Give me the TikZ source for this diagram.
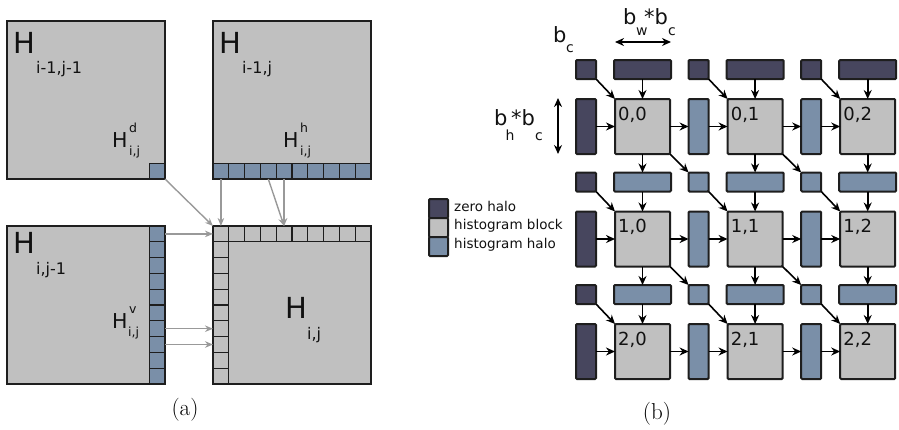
\documentclass[tikz,border=0pt]{standalone}
\usepackage{fontspec}
\newfontfamily\dv{DejaVu Sans}
\usetikzlibrary{arrows.meta}
\definecolor{blockgray}{HTML}{C0C0C0}
\definecolor{halob}{HTML}{7A8FA8}
\definecolor{zerod}{HTML}{47465E}
\definecolor{edgec}{HTML}{1E1E1E}
\definecolor{arrowgray}{HTML}{999999}
\definecolor{txtc}{HTML}{111111}
\begin{document}
\begin{tikzpicture}[x=1pt,y=-1pt,
  bigbox/.style={draw=edgec, line width=1.5pt, fill=blockgray, minimum size=158pt, inner sep=0pt, outer sep=0pt},
  hcell/.style={draw=edgec, line width=1.2pt, fill=halob, minimum size=15.8pt, inner sep=0pt, outer sep=0pt},
  gcell/.style={draw=edgec, line width=1.2pt, fill=blockgray, minimum size=15.8pt, inner sep=0pt, outer sep=0pt},
  garrow/.style={draw=arrowgray, line width=1.4pt, -{Stealth[length=8pt,width=6.5pt]}},
  rbox/.style={draw=edgec, line width=2pt, rounded corners=1pt, inner sep=0pt, outer sep=0pt},
  sqbox/.style={rbox, minimum width=20pt, minimum height=19pt},
  hbarbox/.style={rbox, minimum width=57pt, minimum height=19pt},
  vbarbox/.style={rbox, minimum width=20pt, minimum height=55pt},
  blockbox/.style={rbox, fill=blockgray, minimum width=55pt, minimum height=55pt},
  barrow/.style={draw=black, line width=1.6pt, -{Stealth[length=9pt,width=8pt]}},
  dimarrow/.style={draw=black, line width=1.6pt, {Stealth[length=9pt,width=8pt]}-{Stealth[length=9pt,width=8pt]}},
  txt/.style={inner sep=0pt, anchor=base west, text=txtc},
  bigH/.style={txt, font={\dv\fontsize{29}{30}\selectfont}},
  midH/.style={txt, font={\dv\fontsize{20.5}{22}\selectfont}},
  subA/.style={txt, font={\dv\fontsize{16}{17}\selectfont}},
  subB/.style={txt, font={\dv\fontsize{12.5}{13}\selectfont}},
  blbl/.style={txt, font={\dv\fontsize{18}{19}\selectfont}},
  dimb/.style={txt, font={\dv\fontsize{21}{22}\selectfont}},
  dims/.style={txt, font={\dv\fontsize{14}{15}\selectfont}},
  legtxt/.style={txt, font={\dv\fontsize{13.5}{14}\selectfont}},
  captxt/.style={inner sep=0pt, font={\fontsize{23}{26}\selectfont}}
]
\useasboundingbox (0,0) rectangle (899,429);

% ---------- panel (a) ----------
\node[bigbox] (A) at (86,100) {};
\node[bigbox] (B) at (292,100) {};
\node[bigbox] (C) at (86,305) {};
\node[bigbox] (D) at (292,305) {};

\node[hcell] (hd) at (157.1,171.1) {};
\foreach \k in {1,...,10} {
  \node[hcell] (hh\k) at ({213+(\k-0.5)*15.8},171.1) {};
  \node[hcell] (hv\k) at (157.1,{226+(\k-0.5)*15.8}) {};
  \node[gcell] (t\k) at ({213+(\k-0.5)*15.8},233.9) {};
}
\foreach \k in {2,...,10} {
  \node[gcell] (l\k) at (220.9,{226+(\k-0.5)*15.8}) {};
}

\node[bigH] (lA) at (13,53) {H};
\node[subA] (sA) at (36,73) {i-1,j-1};
\node[bigH] (lB) at (219,53) {H};
\node[subA] (sB) at (242,73) {i-1,j};
\node[bigH] (lC) at (13,253) {H};
\node[subA] (sC) at (36,274) {i,j-1};
\node[bigH] (lD) at (285,318) {H};
\node[subA] (sD) at (307,339) {i,j};

\node[midH] (lhd) at (112,147) {H};
\node[subB] (phd) at (129,132) {d};
\node[subB] (bhd) at (129,155.5) {i,j};
\node[midH] (lhh) at (283,147) {H};
\node[subB] (phh) at (300,132) {h};
\node[subB] (bhh) at (300,155.5) {i,j};
\node[midH] (lhv) at (112,328) {H};
\node[subB] (phv) at (129,313) {v};
\node[subB] (bhv) at (128,336.5) {i,j};

\draw[garrow] (hd.south east) -- (t1.north west);
\draw[garrow] (hh1.south) -- (t1.north);
\draw[garrow] (hh4.south) -- (t5.north);
\draw[garrow] (hh5.south) -- (t5.north);
\draw[garrow] (hv1.east) -- (t1.west);
\draw[garrow] (hv7.east) -- (l7.west);
\draw[garrow] (hv8.east) -- (l8.west);

\node[captxt] (capa) at (185,410) {(a)};

% ---------- panel (b) ----------
\foreach \r in {0,1,2} {
  \foreach \c in {0,1,2} {
    \pgfmathsetmacro\bx{642.5+112.6*\c}
    \pgfmathsetmacro\sx{586+112.6*\c}
    \pgfmathsetmacro\by{126.5+112.5*\r}
    \pgfmathsetmacro\ty{69.5+112.5*\r}
    \pgfmathsetmacro\lx{618+112.6*\c}
    \pgfmathsetmacro\ly{120+112.5*\r}
    \ifnum\r=0 \def\tcol{zerod}\else\def\tcol{halob}\fi
    \ifnum\c=0 \def\lcol{zerod}\else\def\lcol{halob}\fi
    \ifnum\numexpr\r*\c\relax=0 \def\scol{zerod}\else\def\scol{halob}\fi
    \node[sqbox, fill=\scol] (s-\r-\c) at (\sx,\ty) {};
    \node[hbarbox, fill=\tcol] (t-\r-\c) at (\bx,\ty) {};
    \node[vbarbox, fill=\lcol] (l-\r-\c) at (\sx,\by) {};
    \node[blockbox] (b-\r-\c) at (\bx,\by) {};
    \node[blbl] (n-\r-\c) at (\lx,\ly) {\r,\c};
  }
}
\foreach \r in {0,1,2} {
  \foreach \c in {0,1,2} {
    \draw[barrow] (s-\r-\c.south east) -- (b-\r-\c.north west);
    \draw[barrow] (t-\r-\c.south) -- (b-\r-\c.north);
    \draw[barrow] (l-\r-\c.east) -- (b-\r-\c.west);
  }
  \foreach \c/\cn in {0/1,1/2} {
    \draw[barrow] (b-\r-\c.east) -- (l-\r-\cn.west);
  }
}
\foreach \r/\rn in {0/1,1/2} {
  \foreach \c in {0,1,2} {
    \draw[barrow] (b-\r-\c.south) -- (t-\rn-\c.north);
  }
  \foreach \c/\cn in {0/1,1/2} {
    \draw[barrow] (b-\r-\c.south east) -- (s-\rn-\cn.north west);
  }
}

% dimension annotations
\coordinate (dw1) at (615,42);
\coordinate (dw2) at (671,42);
\draw[dimarrow] (dw1) -- (dw2);
\coordinate (dh1) at (558,98);
\coordinate (dh2) at (558,154);
\draw[dimarrow] (dh1) -- (dh2);

\node[dimb] (bc1) at (553,42) {b};
\node[dims] (bc2) at (566,52) {c};
\node[dimb] (bw1) at (623,24) {b};
\node[dims] (bw2) at (636,35) {w};
\node[dimb] (bw3) at (644,24) {*b};
\node[dims] (bw4) at (668,35) {c};
\node[dimb] (bh1) at (494,125) {b};
\node[dims] (bh2) at (505.5,140) {h};
\node[dimb] (bh3) at (511,125) {*b};
\node[dims] (bh4) at (535,140) {c};

% legend
\node[sqbox, minimum width=19pt, fill=zerod] (k1) at (438.5,208.5) {};
\node[sqbox, minimum width=19pt, fill=blockgray] (k2) at (438.5,227.5) {};
\node[sqbox, minimum width=19pt, fill=halob] (k3) at (438.5,246.5) {};
\node[legtxt] (kt1) at (454,211) {zero halo};
\node[legtxt] (kt2) at (454,229.5) {histogram block};
\node[legtxt] (kt3) at (454,248) {histogram halo};

\node[captxt] (capb) at (657,414) {(b)};
\end{tikzpicture}
\end{document}
